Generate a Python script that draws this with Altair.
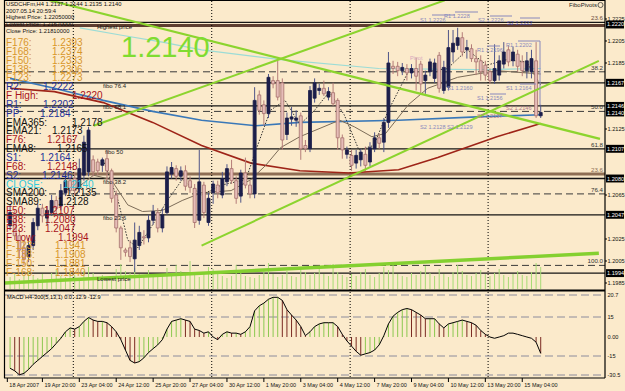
import altair as alt
import pandas as pd

# ---------------- data ----------------
FIRST_BAR = -14  # bar index of first visible H4 candle (0 = 23 Apr 00:00)

opens = [1.2037, 1.2047, 1.2028, 1.2017, 1.2009, 1.2019, 1.2037, 1.2053, 1.2044, 1.2049, 1.2060, 1.2055, 1.2067, 1.2078,
         1.2080, 1.2071, 1.2083, 1.2086, 1.2097, 1.2095, 1.2092, 1.2098, 1.2087, 1.2065, 1.2035, 1.2015, 1.2017, 1.2007,
         1.2019, 1.2027, 1.2026, 1.2042, 1.2049, 1.2035, 1.2049, 1.2084, 1.2089, 1.2082, 1.2087, 1.2078, 1.2071, 1.2042,
         1.2074, 1.2040,
         1.2067, 1.2074, 1.2065, 1.2077, 1.2089, 1.2078, 1.2064, 1.2085, 1.2074, 1.2066, 1.2156, 1.2147, 1.2139, 1.2169,
         1.2169, 1.2167, 1.2120, 1.2134, 1.2133, 1.2137, 1.2110, 1.2107, 1.2153, 1.2160, 1.2162, 1.2154, 1.2158, 1.2151,
         1.2117, 1.2102,
         1.2101, 1.2094, 1.2097, 1.2102, 1.2095, 1.2107, 1.2117, 1.2113, 1.2131, 1.2182, 1.2182, 1.2178, 1.2180, 1.2176,
         1.2180, 1.2184, 1.2169, 1.2177, 1.2171, 1.2192, 1.2160, 1.2163, 1.2195, 1.2201, 1.2208, 1.2197, 1.2198, 1.2189,
         1.2187, 1.2183,
         1.2177, 1.2169, 1.2174, 1.2184, 1.2197, 1.2187, 1.2193, 1.2186, 1.2178, 1.2177, 1.2187, 1.2137]
highs = [1.2056, 1.2051, 1.2035, 1.2024, 1.2026, 1.2044, 1.2057, 1.2057, 1.2055, 1.2065, 1.2064, 1.2075, 1.2083, 1.2082,
         1.2086, 1.2098, 1.2119, 1.2127, 1.2101, 1.2098, 1.2099, 1.2106, 1.2089, 1.2069, 1.2037, 1.2017, 1.2024, 1.2040,
         1.2037, 1.2033, 1.2047, 1.2056, 1.2053, 1.2053, 1.2091, 1.2095, 1.2092, 1.2091, 1.2092, 1.2082, 1.2075, 1.2106,
         1.2077, 1.2067,
         1.2078, 1.2078, 1.2086, 1.2093, 1.2097, 1.2082, 1.2088, 1.2099, 1.2078, 1.2163, 1.2160, 1.2151, 1.2175, 1.2173,
         1.2187, 1.2171, 1.2140, 1.2145, 1.2142, 1.2140, 1.2115, 1.2164, 1.2171, 1.2166, 1.2169, 1.2163, 1.2167, 1.2153,
         1.2120, 1.2109,
         1.2106, 1.2106, 1.2107, 1.2109, 1.2113, 1.2122, 1.2121, 1.2135, 1.2195, 1.2187, 1.2186, 1.2185, 1.2184, 1.2184,
         1.2190, 1.2187, 1.2178, 1.2189, 1.2189, 1.2195, 1.2187, 1.2215, 1.2215, 1.2217, 1.2213, 1.2206, 1.2202, 1.2197,
         1.2192, 1.2187,
         1.2180, 1.2202, 1.2192, 1.2204, 1.2201, 1.2200, 1.2197, 1.2192, 1.2195, 1.2197, 1.2204, 1.2147]
lows = [1.2033, 1.2024, 1.2007, 1.2001, 1.2004, 1.2015, 1.2033, 1.2040, 1.2038, 1.2046, 1.2047, 1.2051, 1.2064, 1.2066,
        1.2065, 1.2067, 1.2078, 1.2082, 1.2082, 1.2083, 1.2086, 1.2078, 1.2058, 1.2031, 1.2006, 1.2009, 1.2004, 1.1995,
        1.2015, 1.2020, 1.2022, 1.2038, 1.2031, 1.2031, 1.2047, 1.2080, 1.2078, 1.2078, 1.2069, 1.2067, 1.2035, 1.2038,
        1.2044, 1.2037,
        1.2057, 1.2062, 1.2062, 1.2073, 1.2075, 1.2057, 1.2058, 1.2071, 1.2062, 1.2062, 1.2138, 1.2128, 1.2135, 1.2162,
        1.2151, 1.2106, 1.2115, 1.2128, 1.2127, 1.2097, 1.2104, 1.2104, 1.2149, 1.2156, 1.2155, 1.2151, 1.2146, 1.2106,
        1.2098, 1.2098,
        1.2087, 1.2089, 1.2091, 1.2087, 1.2091, 1.2104, 1.2107, 1.2104, 1.2126, 1.2175, 1.2173, 1.2174, 1.2169, 1.2171,
        1.2160, 1.2157, 1.2157, 1.2173, 1.2167, 1.2158, 1.2157, 1.2160, 1.2186, 1.2197, 1.2191, 1.2189, 1.2186, 1.2174,
        1.2169, 1.2169,
        1.2166, 1.2166, 1.2169, 1.2180, 1.2182, 1.2182, 1.2177, 1.2173, 1.2171, 1.2171, 1.2135, 1.2135]
closes = [1.2049, 1.2028, 1.2015, 1.2007, 1.2019, 1.2040, 1.2053, 1.2046, 1.2051, 1.2060, 1.2053, 1.2069, 1.2078, 1.2069,
          1.2069, 1.2089, 1.2113, 1.2124, 1.2086, 1.2087, 1.2097, 1.2087, 1.2062, 1.2035, 1.2017, 1.2013, 1.2009, 1.2024,
          1.2031, 1.2026, 1.2042, 1.2050, 1.2035, 1.2047, 1.2086, 1.2090, 1.2082, 1.2087, 1.2073, 1.2072, 1.2040, 1.2077,
          1.2049, 1.2062,
          1.2075, 1.2067, 1.2080, 1.2089, 1.2078, 1.2062, 1.2085, 1.2074, 1.2066, 1.2151, 1.2142, 1.2139, 1.2172, 1.2166,
          1.2154, 1.2115, 1.2135, 1.2136, 1.2135, 1.2107, 1.2107, 1.2160, 1.2167, 1.2162, 1.2157, 1.2159, 1.2148, 1.2117,
          1.2106, 1.2106,
          1.2092, 1.2101, 1.2104, 1.2092, 1.2108, 1.2117, 1.2112, 1.2131, 1.2185, 1.2180, 1.2178, 1.2181, 1.2176, 1.2180,
          1.2173, 1.2166, 1.2174, 1.2186, 1.2185, 1.2162, 1.2181, 1.2199, 1.2203, 1.2208, 1.2195, 1.2199, 1.2189, 1.2186,
          1.2177, 1.2174,
          1.2169, 1.2180, 1.2187, 1.2195, 1.2186, 1.2195, 1.2182, 1.2178, 1.2187, 1.2189, 1.2137, 1.2140]

volume = [12, 15, 10, 14, 18, 13, 11, 15, 10, 16, 19, 13, 12, 17,
          14, 11, 18, 22, 16, 12, 14, 11, 13, 20, 25, 18, 16, 21, 15, 12, 19, 14, 12, 15, 21, 15, 24, 18, 16, 28, 14, 12, 17, 22,
          20, 16, 13, 11, 13, 24, 16, 13, 12, 11, 14, 18, 26, 15, 12, 14, 18, 13, 12, 22, 17, 14, 16, 20, 15, 13, 25, 17, 14, 12,
          15, 13, 17, 20, 14, 12, 16, 22, 19, 27, 15, 13, 12, 16, 14, 18, 23, 16, 13, 20, 15, 12, 17, 24, 18, 14, 13, 16, 19, 15,
          13, 16, 20, 14, 12, 15, 18, 14, 13, 17, 26, 22]

macd = [-25.0, -27.1, -30.3, -29.2, -26.0, -21.8, -18.6, -15.4, -12.3, -9.2, -5.1, -1.0, 3.9, 6.8,
        5.9, 7.8, 11.7, 14.6, 12.7, 11.7, 11.7, 10.7, 7.8, 3.9, -2.1, -10.3, -18.6, -20.7, -19.6, -16.5,
        -12.3, -9.2, -6.2, -2.1, 5.9, 11.7, 12.7, 13.7, 12.7, 11.7, 5.9, 4.9, 2.9, 3.9,
        0.0, -2.1, 2.0, 3.9, 2.9, 2.9, 2.0, 3.9, 7.8, 16.6, 17.9, 18.6, 19.6, 20.1, 20.1, 19.3,
        16.9, 15.5, 12.7, 7.8, 1.0, 3.9, 7.8, 9.8, 10.7, 10.7, 10.7, 7.8, 2.0, -3.1,
        -7.2, -11.3, -14.4, -13.3, -12.3, -10.3, -6.2, 1.0, 9.8, 15.2, 16.2, 16.9, 17.2, 16.9,
        16.2, 15.5, 13.7, 13.7, 13.7, 9.8, 6.8, 9.8, 10.7, 11.7, 12.7, 11.7, 10.7, 8.8, 4.9, 2.0,
        0.0, -1.0, 0.0, 1.0, 2.9, 2.9, 2.0, 1.0, 0.0, -1.0, -4.1, -12.9]

# moving averages: (bar index, price) points
sma200_i = [-14, -4.4, 6.2, 16.9, 27.5, 39.3, 48.8, 70.2, 87.2, 101]
sma200_p = [1.2171, 1.2162, 1.2151, 1.2141, 1.2133, 1.2128, 1.2131, 1.2133, 1.2136, 1.2138]
sma89_i = [-14, -4.4, 6.2, 16.9, 27.5, 38.2, 48.8, 59.5, 70.2, 78.7, 91.5, 101]
sma89_p = [1.2162, 1.2159, 1.2149, 1.2131, 1.2110, 1.2094, 1.2087, 1.2085, 1.2088, 1.2099, 1.2118, 1.2130]
ema365_i = [1.1, 10.5, 19.0, 27.5, 44.6, 65.9, 87.2, 101]
ema365_p = [1.2217, 1.2210, 1.2204, 1.2197, 1.2188, 1.2180, 1.2179, 1.2180]
ema21_i = [-0.2, 4.1, 7.9, 11.5, 14.7, 19.0, 23.3, 27.5, 33.9, 38.2, 41.4, 44.6, 48.8, 57.4, 60.6, 64.4, 67.4,
           72.3, 76.5, 83.0, 91.5, 101]
ema21_p = [1.2069, 1.2083, 1.2079, 1.2056, 1.2050, 1.2051, 1.2060, 1.2067, 1.2069, 1.2079, 1.2092, 1.2108, 1.2118,
           1.2133, 1.2127, 1.2118, 1.2121, 1.2147, 1.2162, 1.2172, 1.2178, 1.2175]
ema8_i = [6.2, 9.4, 11.5, 13.7, 16.9, 20.1, 23.3, 27.5, 31.8, 37.1, 39.3, 42.4, 45.6, 48.8, 52.0, 55.2, 58.4, 61.6,
          64.8, 68.0, 72.3, 76.5, 80.8, 85.1, 89.3, 93.6, 97.9, 101]
ema8_p = [1.2097, 1.2060, 1.2024, 1.2017, 1.2038, 1.2060, 1.2079, 1.2065, 1.2074, 1.2079, 1.2106, 1.2142, 1.2151,
          1.2129, 1.2142, 1.2159, 1.2138, 1.2106, 1.2110, 1.2142, 1.2177, 1.2177, 1.2180, 1.2197, 1.2183, 1.2188,
          1.2186, 1.2165]

# trend lines (bar index, price) end points
trend_down_i = [-5.5, 113.85]
trend_down_p = [1.2242, 1.2116]
trend_up1_i = [4.1, 80.2]
trend_up1_p = [1.2128, 1.2242]
trend_up2_i = [27.5, 113.6]
trend_up2_p = [1.2019, 1.2187]
trend_base_i = [-15.1, 113.6]
trend_base_p = [1.1985, 1.2012]

# horizontal levels
solid_levels = [1.2222, 1.2167, 1.2146, 1.2107, 1.2080, 1.2047, 1.1994]
dashed_levels = [1.2177, 1.2141, 1.2066, 1.2001]
brown_levels = [1.2219, 1.2084]
box_levels = [1.2220, 1.2167, 1.2146, 1.2140, 1.2107, 1.2080, 1.2047, 1.1994]
axis_prices = [1.2225, 1.2205, 1.2185, 1.2125, 1.2065, 1.2025, 1.2005, 1.1985]
fibo_pct = ["23.6", "38.2", "50.0", "61.8", "23.6", "76.4", "100.0"]
fibo_pct_p = [1.2222, 1.2177, 1.2141, 1.2107, 1.2084, 1.2066, 1.2001]

week_starts = [-0.3, 29.7, 59.7, 89.6]
date_labels = ["18 Apr 2007", "19 Apr 20:00", "23 Apr 04:00", "24 Apr 12:00", "25 Apr 20:00", "27 Apr 04:00",
               "30 Apr 12:00", "1 May 20:00", "3 May 04:00", "4 May 12:00", "7 May 20:00", "9 May 04:00",
               "10 May 12:00", "13 May 20:00", "15 May 04:00"]
date_bars = [-14.6, -7, 1, 9, 17, 25, 33, 41, 49, 57, 65, 73, 81, 89, 97]

macd_levels = [20.7, 15, -15, -30.5]
macd_ticks = [20.7, 15, 0, -15, -30.5]
macd_tick_text = ["20.7", "15", "0.00", "-15", "-30.5"]

table_names = ["F176:", "F168:", "F150:", "F138:", "F123:", "R2:", "F High:", "R1:", "PP:", "EMA365:", "EMA21:",
               "F76:", "EMA8:", "S1:", "F68:", "S2:", "CLOSE:", "SMA200:", "SMA89:", "F50:", "F38:", "F23:",
               "F Low:", "F-123:", "F-138:", "F-150:", "F-168:"]
table_values = ["1.2393", "1.2374", "1.2333", "1.2306", "1.2273", "1.2222", "1.2220", "1.2202", "1.2184", "1.2178",
                "1.2173", "1.2167", "1.2165", "1.2164", "1.2148", "1.2146", "1.2140", "1.2135", "1.2128", "1.2107",
                "1.2080", "1.2047", "1.1994", "1.1941", "1.1908", "1.1881", "1.1840"]

# ---------------- styles / layout ----------------
OR, BL, RD, BK, CY = "#D8962A", "#22309A", "#A8141C", "#111111", "#30C8DC"
table_colors = [OR, OR, OR, OR, OR, BL, RD, BL, BL, BK, BK, RD, BK, BL, RD, BL, CY, BK, BK, RD, RD, RD, RD,
                OR, OR, OR, OR]
table_vx = [52, 52, 52, 52, 52, 43, 72, 43, 40, 72, 52, 47, 57, 40, 47, 42, 63, 66, 58, 44, 45, 45, 58,
            55, 55, 55, 55]

FONT = "Liberation Sans, Arial, sans-serif"
XDOM, XRANGE = [-14.02, 113.85], [5, 605]
PDOM, PRANGE = [1.197955, 1.224227], [289, 0]
MDOM, MRANGE = [-30.5, -15, 0, 15, 20.7], [375, 356, 337, 317, 295]
VDOM, VRANGE = [0, 100], [289, 189]


def xq(field="i"):
    return alt.X(f"{field}:Q", scale=alt.Scale(domain=XDOM, range=XRANGE, nice=False, zero=False), axis=None)


def yq(field, dom, rng):
    return alt.Y(f"{field}:Q", scale=alt.Scale(domain=dom, range=rng, nice=False, zero=False), axis=None)


def py(field="p"):
    return yq(field, PDOM, PRANGE)


def my(field="m"):
    return yq(field, MDOM, MRANGE)


ONE = pd.DataFrame({"k": [0]})


def label(text, x, y, size=7.0, color="#000000", align="left", baseline="middle", weight="normal"):
    return alt.Chart(ONE).mark_text(text=text, align=align, baseline=baseline, fontSize=size, color=color,
                                    fontWeight=weight, font=FONT).encode(x=alt.value(x), y=alt.value(y))


def hrule(x1, x2, y, color="#000000", width=1.0, dash=None):
    kw = dict(color=color, strokeWidth=width)
    if dash:
        kw["strokeDash"] = dash
    return alt.Chart(ONE).mark_rule(**kw).encode(x=alt.value(x1), x2=alt.value(x2), y=alt.value(y))


def vrule(x, y1, y2, color="#000000", width=1.0):
    return alt.Chart(ONE).mark_rule(color=color, strokeWidth=width).encode(
        x=alt.value(x), y=alt.value(y1), y2=alt.value(y2))


def pline(xs, ps, color, width=1.0, dash=None):
    kw = dict(color=color, strokeWidth=width)
    if dash:
        kw["strokeDash"] = dash
    return alt.Chart(pd.DataFrame({"i": xs, "p": ps})).mark_line(**kw).encode(x=xq(), y=py())


# ---------------- frames ----------------
n = len(opens)
bars = list(range(FIRST_BAR, FIRST_BAR + n))
cdf = pd.DataFrame({"i": bars, "o": opens, "h": highs, "l": lows, "c": closes})
up = [c >= o for o, c in zip(opens, closes)]
cdf["wick"] = ["#4E5488" if u else "#B47C78" for u in up]
cdf["fillc"] = ["#1C1E4A" if u else "#E6BDB8" for u in up]
cdf["strokec"] = ["#1C1E4A" if u else "#A4706C" for u in up]
cdf["bot"] = cdf[["o", "c"]].min(axis=1)
cdf["top"] = cdf[["o", "c"]].max(axis=1)
cdf["top"] = cdf[["top"]].assign(m=cdf["bot"] + 0.00009).max(axis=1)

vdf = pd.DataFrame({"i": bars, "v": volume, "z": 0})
mdf = pd.DataFrame({"i": bars, "m": macd, "z": 0.0})
mdf["col"] = ["#8CC850" if k == 0 or macd[k] >= macd[k - 1] else "#7A2A22" for k in range(n)]
hist = mdf[(mdf["i"] <= 89) | (mdf["i"] >= 100)]

layers = []

# horizontal levels
layers.append(alt.Chart(pd.DataFrame({"p": dashed_levels})).mark_rule(color="#3A3A3A", strokeDash=[7, 4])
              .encode(y=py(), x=alt.value(5), x2=alt.value(605)))
layers.append(alt.Chart(pd.DataFrame({"p": solid_levels})).mark_rule(color="#151515", strokeWidth=1.3)
              .encode(y=py(), x=alt.value(5), x2=alt.value(605)))
layers.append(alt.Chart(pd.DataFrame({"p": brown_levels, "c": ["#5E3E30", "#8E6E54"]}))
              .mark_rule(strokeWidth=3).encode(y=py(), x=alt.value(5), x2=alt.value(605),
                                               color=alt.Color("c:N", scale=None)))

# weekly separators
layers.append(alt.Chart(pd.DataFrame({"i": week_starts})).mark_rule(color="#000000", strokeDash=[1, 2])
              .encode(x=xq(), y=alt.value(1), y2=alt.value(378)))

# volume
layers.append(alt.Chart(vdf).mark_rule(color="#A6DA74", strokeWidth=1)
              .encode(x=xq(), y=yq("z", VDOM, VRANGE), y2=alt.Y2("v:Q")))

# moving averages
layers.append(pline(ema365_i, ema365_p, "#9CDCD6", 1.2))
layers.append(pline(sma200_i, sma200_p, "#3A78B8", 1.6))
layers.append(pline(sma89_i, sma89_p, "#9E2418", 1.6))
layers.append(pline(ema21_i, ema21_p, "#7C6C58", 1.0))
layers.append(pline(ema8_i, ema8_p, "#303030", 1.0, [1.5, 1.5]))

# candles
layers.append(alt.Chart(cdf).mark_rule(strokeWidth=1)
              .encode(x=xq(), y=py("l"), y2=alt.Y2("h:Q"), color=alt.Color("wick:N", scale=None)))
layers.append(alt.Chart(cdf).mark_bar(size=3, strokeWidth=0.8)
              .encode(x=xq(), y=py("bot"), y2=alt.Y2("top:Q"),
                      fill=alt.Fill("fillc:N", scale=None), stroke=alt.Stroke("strokec:N", scale=None)))

# trend lines
layers.append(pline(trend_down_i, trend_down_p, "#8CD42E", 2.2))
layers.append(pline(trend_up1_i, trend_up1_p, "#8CD42E", 2.0))
layers.append(pline(trend_up2_i, trend_up2_p, "#8CD42E", 2.0))
layers.append(pline(trend_base_i, trend_base_p, "#84D030", 3.5))

# MACD panel
layers.append(alt.Chart(pd.DataFrame({"m": macd_levels})).mark_rule(color="#8C8C9C", strokeDash=[8, 4])
              .encode(y=my(), x=alt.value(5), x2=alt.value(605)))
layers.append(alt.Chart(hist).mark_rule(strokeWidth=1)
              .encode(x=xq(), y=my("z"), y2=alt.Y2("m:Q"), color=alt.Color("col:N", scale=None)))
layers.append(alt.Chart(mdf).mark_line(color="#000000", strokeWidth=1).encode(x=xq(), y=my()))
layers.append(alt.Chart(pd.DataFrame({"m": macd_ticks, "t": macd_tick_text}))
              .mark_text(align="left", baseline="middle", fontSize=5.6, font=FONT, color="#111111")
              .encode(y=my(), x=alt.value(607.5), text="t:N"))
layers.append(label("MACD H4-300(5,13,1) 0.0 -12.9 -12.9", 7, 297, 5.6))

# frame lines
layers.append(vrule(4.5, 0, 378, "#000000", 1.2))
layers.append(vrule(605, 0, 378, "#000000", 1.2))
layers.append(hrule(4, 605, 0.5, "#000000", 1))
layers.append(hrule(4, 605, 290.5, "#000000", 2.2))
layers.append(hrule(4, 605, 378, "#000000", 1.2))

# right price axis
layers.append(alt.Chart(pd.DataFrame({"p": axis_prices})).mark_rule(color="#000000")
              .encode(y=py(), x=alt.value(605), x2=alt.value(607)))
layers.append(alt.Chart(pd.DataFrame({"p": axis_prices, "t": [f"{v:.4f}" for v in axis_prices]}))
              .mark_text(align="left", baseline="middle", fontSize=5.6, font=FONT, color="#111111")
              .encode(y=py(), x=alt.value(607.5), text="t:N"))
bdf = pd.DataFrame({"p": box_levels, "t": [f"{v:.4f}" for v in box_levels]})
bdf["lo"] = bdf["p"] - 0.00036
bdf["hi"] = bdf["p"] + 0.00036
layers.append(alt.Chart(bdf).mark_rect(color="#000000")
              .encode(y=py("lo"), y2=alt.Y2("hi:Q"), x=alt.value(606), x2=alt.value(624)))
layers.append(alt.Chart(bdf).mark_text(align="left", baseline="middle", fontSize=5.6, font=FONT, color="#FFFFFF")
              .encode(y=py(), x=alt.value(607), text="t:N"))

# fibo percentage labels
layers.append(alt.Chart(pd.DataFrame({"p": fibo_pct_p, "t": fibo_pct,
                                      "c": ["#6E4C3C", "#333", "#333", "#333", "#8E6E54", "#333", "#333"]}))
              .mark_text(align="right", baseline="bottom", fontSize=6.2, font=FONT, dy=-1)
              .encode(y=py(), x=alt.value(603), text="t:N", color=alt.Color("c:N", scale=None)))

# bottom date axis
layers.append(alt.Chart(pd.DataFrame({"i": date_bars})).mark_rule(color="#000000")
              .encode(x=xq(), y=alt.value(378), y2=alt.value(382)))
layers.append(alt.Chart(pd.DataFrame({"i": date_bars, "t": date_labels}))
              .mark_text(align="left", baseline="middle", fontSize=5.5, font=FONT, color="#111111", dx=2)
              .encode(x=xq(), y=alt.value(385), text="t:N"))

# in-chart annotations
for t, x, y in [("fibo 76.4", 103, 86), ("fibo 68.1", 103, 107), ("fibo 50", 105, 152),
                ("fibo 38.2", 103, 182), ("fibo 23.6", 103, 218)]:
    layers.append(label(t, x, y, 6, "#222222"))
layers.append(label("Highest price", 97, 27, 6, "#111111"))
layers.append(label("Lowest price", 97, 279, 6, "#111111"))

LAV, PNK = "#8888BC", "#B07888"
for t, x, y, c in [("S1 1.2226", 420, 20, LAV), ("R1 1.2228", 444, 16, LAV), ("S2 1.2226", 478, 20, LAV),
                   ("S2 1.2222", 507, 23, "#4848A8"), ("R1 1.2196", 477, 50, LAV), ("R1 1.2202", 506, 45, LAV),
                   ("S1 1.2160", 447, 88, LAV), ("S1 1.2164", 506, 88, LAV), ("S1 1.2156", 477, 98, LAV),
                   ("S2 1.2146", 506, 108, PNK), ("S2 1.2137", 477, 116, PNK), ("S2 1.2128", 420, 127, LAV),
                   ("S2 1.2129", 447, 127, LAV), ("Pivot", 410, 58, "#D8A8C0")]:
    layers.append(label(t, x, y, 5.6, c))
for x1, x2, y in [(432, 455, 15), (455, 478, 12), (490, 512, 16), (520, 540, 18), (487, 500, 46),
                  (518, 540, 41), (520, 536, 84), (490, 506, 94)]:
    layers.append(hrule(x1, x2, y, LAV, 1))
layers.append(vrule(540, 41, 105, "#8888BC", 1))

# header
for k, t in enumerate(["USDCHFm,H4  1.2137 1.2144 1.2135 1.2140", "2007.05.14 20:59:4",
                       "Highest Price: 1.22050000", "Lowest Price: 1.21670000", "Close Price: 1.21810000"]):
    layers.append(label(t, 6, [4, 10.5, 17, 24, 31][k], 5.8, "#111111"))
layers.append(label("FiboPivots", 597, 5, 6, "#222222", align="right"))
layers.append(alt.Chart(ONE).mark_point(shape="circle", size=26, color="#222222", strokeWidth=1)
              .encode(x=alt.value(600.5), y=alt.value(5)))

# big price
layers.append(label("1.2140", 121, 48, 29, "#80DC30"))

# left table
tdf = pd.DataFrame({"name": table_names, "val": table_values, "col": table_colors, "vx": table_vx,
                    "row": list(range(len(table_names)))})
row_y = alt.Y("row:Q", scale=alt.Scale(domain=[0, 26], range=[43, 273]), axis=None)
layers.append(alt.Chart(tdf).mark_text(align="left", baseline="middle", fontSize=10, font=FONT)
              .encode(x=alt.value(6), y=row_y, text="name:N", color=alt.Color("col:N", scale=None)))
layers.append(alt.Chart(tdf).mark_text(align="left", baseline="middle", fontSize=10, font=FONT)
              .encode(x=alt.X("vx:Q", scale=None, axis=None), y=row_y, text="val:N",
                      color=alt.Color("col:N", scale=None)))

chart = (alt.layer(*layers)
         .resolve_scale(y="independent")
         .properties(width=625, height=391, autosize=alt.AutoSizeParams(type="none"), padding=0,
                     background="#FBEACB")
         .configure_view(strokeWidth=0))

chart.save("out.html", embed_options={"renderer": "svg", "actions": False})
